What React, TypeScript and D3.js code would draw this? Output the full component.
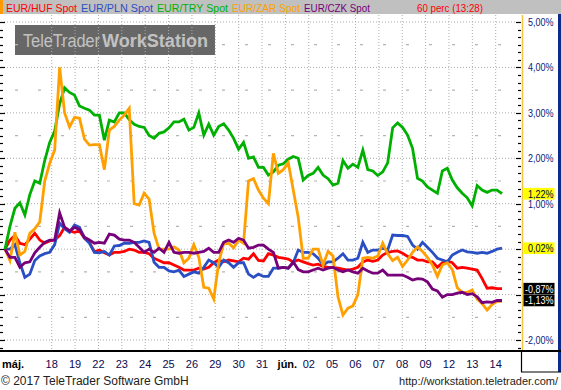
import React from "react";
import * as d3 from "d3";

// ---- data (percent change since start, hourly bars sampled) ----
const seriesNames = ["EUR/HUF Spot", "EUR/PLN Spot", "EUR/TRY Spot", "EUR/ZAR Spot", "EUR/CZK Spot"];
const seriesColors = ["#ff0000", "#2a4fc4", "#00b000", "#ffa000", "#76007a"];

const hufValues = [
  0.0, 0.2, 0.3, 0.13, 0.1, 0.22, 0.35, 0.2, 0.13, 0.18,
  0.2, 0.3, 0.48, 0.4, 0.37, 0.4, 0.24, 0.15, -0.06, -0.02,
  -0.08, -0.13, -0.07, -0.07, -0.05, 0.0, -0.02, -0.07, -0.07, -0.1,
  -0.2, -0.25, -0.3, -0.3, -0.35, -0.4, -0.46, -0.46, -0.46, -0.42,
  -0.44, -0.4, -0.3, -0.24, -0.28, -0.24, -0.26, -0.28, -0.2, -0.22,
  -0.1, -0.25, -0.26, -0.1, -0.13, -0.18, -0.2, -0.22, -0.28, -0.24,
  -0.28, -0.32, -0.35, -0.33, -0.38, -0.4, -0.4, -0.42, -0.44, -0.46,
  -0.44, -0.4, -0.28, -0.24, -0.27, -0.24, -0.13, -0.07, -0.05, -0.04,
  -0.09, -0.16, -0.18, -0.24, -0.24, -0.28, -0.28, -0.4, -0.3, -0.26,
  -0.3, -0.42, -0.4, -0.42, -0.44, -0.46, -0.65, -0.86, -0.85, -0.87,
  -0.87,
];

const plnValues = [
  0.0, 0.0, 0.1, -0.3, -0.62, -0.55, -0.25, -0.15, -0.1, -0.07,
  0.1, 0.57, 0.45, 0.37, 0.53, 0.48, 0.24, 0.13, -0.07, -0.08,
  -0.05, -0.13, 0.07, 0.08, 0.13, 0.13, 0.15, 0.15, 0.18, 0.15,
  -0.29, -0.4, -0.4, -0.48, -0.5, -0.46, -0.6, -0.55, -0.5, -0.53,
  -0.4, -0.24, -0.3, -0.4, -0.24, -0.3, -0.4, -0.3, -0.3, -0.55,
  -0.62, -0.55, -0.6, -0.6, -0.42, -0.42, -0.4, -0.42, -0.3, -0.02,
  -0.07, -0.07, -0.1, -0.2, -0.35, -0.28, -0.28, -0.2, -0.1, -0.24,
  -0.24, -0.2, 0.15, -0.07, -0.02, -0.02, 0.02, -0.02, 0.31, 0.3,
  0.3, 0.28, 0.09, 0.0, 0.15, 0.04, -0.07, -0.2, -0.24, -0.28,
  -0.13, -0.07, -0.02, -0.06, -0.07, -0.09, -0.07, -0.09, -0.05, 0.0,
  0.02,
];

const tryValues = [
  0.0, 0.5, 0.9, 1.02, 0.75, 1.2, 1.5, 1.45, 1.95, 2.35,
  2.6, 3.2, 3.55, 3.45, 3.39, 3.15, 3.1, 3.06, 2.95, 2.95,
  2.4, 2.84, 2.8, 3.0, 3.0, 2.85, 2.75, 2.7, 2.68, 2.5,
  2.44, 2.55, 2.58, 2.67, 2.8, 2.8, 2.86, 2.62, 2.68, 3.0,
  2.51, 2.75, 2.51, 2.7, 2.76, 2.62, 2.44, 2.2, 2.35, 2.0,
  2.03, 1.8, 1.8, 1.63, 1.7, 1.85, 1.88, 1.98, 2.04, 2.0,
  1.52, 1.62, 1.67, 1.8, 1.63, 1.55, 1.41, 1.45, 1.95, 1.78,
  1.87, 1.8, 2.18, 1.75, 1.72, 1.62, 1.7, 1.9, 2.67, 2.78,
  2.68, 2.51, 2.22, 1.56, 1.5, 1.37, 1.3, 1.23, 1.72, 1.78,
  1.52, 1.35, 1.23, 1.13, 0.95, 1.4, 1.3, 1.25, 1.3, 1.3,
  1.22,
];

const zarValues = [
  0.0, -0.25, 0.37, -0.13, -0.05, 0.35, 0.45, 0.6, 1.5, 1.89,
  2.18, 4.0, 3.0, 2.69, 2.9, 2.88, 2.42, 2.29, 2.3, 2.3,
  1.75, 2.62, 2.7, 2.84, 2.95, 3.1, 1.0, 0.97, 1.23, 1.1,
  0.35, 0.0, 0.0, 0.0, 0.05, -0.02, -0.3, -0.2, 0.1, -0.18,
  -0.84, -0.86, -1.1, -0.29, 0.12, 0.13, 0.03, 0.2, 0.13, 1.5,
  1.55, 1.3, 1.12, 1.0, 2.11, 1.67, 1.75, 1.9, 1.3, 0.7,
  -0.2, -0.2, 0.0, 0.0, -0.35, -0.05, -0.15, -1.05, -1.45, -1.3,
  -1.25, -1.0, -0.2, -0.18, -0.2, -0.15, 0.13, -0.1, -0.25, -0.18,
  -0.38, -0.24, -0.07, 0.05, -0.05, -0.18, -0.35, -0.6, -0.35, -0.3,
  -0.45, -0.85, -0.95, -0.95, -0.9, -1.1, -1.2, -1.34, -1.22, -1.15,
  -1.15,
];

const czkValues = [
  0.0, -0.18, -0.18, -0.4, -0.3, -0.28, -0.08, 0.04, 0.15, 0.2,
  0.2, 0.8, 0.48, 0.4, 0.48, 0.43, 0.26, 0.2, 0.13, 0.15,
  0.13, 0.33, 0.31, 0.22, 0.2, 0.2, 0.15, 0.04, -0.07, 0.0,
  -0.07, 0.02, -0.07, 0.15, -0.07, -0.09, -0.07, -0.07, -0.09, -0.07,
  -0.05, 0.02, -0.07, -0.07, 0.15, 0.2, 0.15, 0.24, 0.2, 0.02,
  0.04, 0.09, 0.09, 0.0, -0.07, -0.42, -0.4, -0.42, -0.28, -0.45,
  -0.5, -0.5, -0.46, -0.42, -0.46, -0.42, -0.4, -0.46, -0.5, -0.46,
  -0.5, -0.53, -0.42, -0.48, -0.53, -0.53, -0.46, -0.57, -0.57, -0.57,
  -0.57, -0.62, -0.68, -0.65, -0.66, -0.72, -0.88, -0.92, -1.06, -1.0,
  -1.0, -0.97, -0.95, -1.0, -0.98, -1.05, -1.18, -1.16, -1.17, -1.13,
  -1.13,
];

// trading-day axis: tick i = trading day i
const dayLabels = ["18", "19", "22", "23", "24", "25", "26", "29", "30", "31", "jún.", "02", "05", "06", "07", "08", "09", "12", "13", "14"];
const monthLabels = ["máj.", "jún."];
const startDay = -1; // first sample (trading-day units)
const endDay = 20.27; // last sample (14 jún. 13:28)
const yTickValues = [5, 4, 3, 2, 1, 0, -1, -2];
const yHalfValues = [4.5, 3.5, 2.5, 1.5, 0.5, -0.5, -1.5];
const headerRight = "60 perc (13:28)";

const fmtPct = (v: number) => d3.format(".2f")(v).replace(".", ",").replace("\u2212", "-") + "%";

export default function App() {
  const W = 561;
  const H = 390;
  const plot = { left: 0, right: 522, top: 15, bottom: 351 };

  const y = d3.scaleLinear().domain([-2, 5]).range([340, 22]);
  const x = d3.scaleLinear().domain([1, 20]).range([51.7, 495.7]);

  const allSeries = [hufValues, plnValues, tryValues, zarValues, czkValues];
  const dayAt = (i: number, n: number) => startDay + (i * (endDay - startDay)) / (n - 1);

  const line = (vals: number[]) =>
    d3
      .line<number>()
      .x((_, i) => x(dayAt(i, vals.length)))
      .y((d) => y(d))
      .curve(d3.curveLinear)(vals) || "";

  const minorTicks = d3.range(-13, 31).map((k) => k / 6);

  // current-value boxes (drawn top-most first, skip overlaps)
  const boxH = 11.6;
  const order = [4, 3, 2, 1, 0];
  const placed: { v: number; cy: number }[] = [];
  order.forEach((si) => {
    const vals = allSeries[si];
    const v = vals[vals.length - 1];
    const cy = y(v);
    if (placed.every((p) => Math.abs(p.cy - cy) >= boxH)) placed.push({ v, cy });
  });

  // axis labels fully hidden behind a value box are not drawn
  const axisLabels = yTickValues.filter((v) => placed.every((p) => Math.abs(p.cy - y(v)) > boxH * 0.6));

  const labelLen = (s: string) => (s.length >= 6 ? 28.5 : 25.5);

  // header legend layout
  const legendWidths = [71, 72, 71, 68, 66];
  const legendX: number[] = [];
  let acc = 6;
  legendWidths.forEach((w) => {
    legendX.push(acc);
    acc += w + 4;
  });

  const grid = "#ababab";

  return (
    <svg
      width={W}
      height={H}
      viewBox={`0 0 ${W} ${H}`}
      style={{ position: "absolute", left: 0, top: 0, background: "#fff" }}
      fontFamily="'Liberation Sans', Arial, sans-serif"
    >
      <defs>
        <clipPath id="plotClip">
          <rect x={plot.left + 1} y={plot.top} width={plot.right - plot.left - 1} height={plot.bottom - plot.top} />
        </clipPath>
      </defs>
      <rect x={0} y={0} width={W} height={H} fill="#ffffff" />

      {/* header */}
      <rect x={0} y={0} width={W} height={14} fill="#c0c0c0" />
      <rect x={0} y={0} width={3} height={14} fill="#ff9a00" />
      {seriesNames.map((n, i) => (
        <text key={n} x={legendX[i]} y={11.5} fontSize={11.2} fill={seriesColors[i]} textLength={legendWidths[i]} lengthAdjust="spacingAndGlyphs">
          {n}
        </text>
      ))}
      <text x={417} y={11.5} fontSize={11.2} fill="#ff0000" textLength={66} lengthAdjust="spacingAndGlyphs">
        {headerRight}
      </text>

      {/* watermark */}
      <rect x={15} y={25} width={200} height={30} fill="#676767" />
      <text x={23} y={46.5} fontSize={18} fill="#c2c2c2" textLength={77} lengthAdjust="spacingAndGlyphs">
        TeleTrader
      </text>
      <text x={102} y={46.5} fontSize={18} fontWeight="bold" fill="#c2c2c2" textLength={106} lengthAdjust="spacingAndGlyphs">
        WorkStation
      </text>

      {/* vertical grid */}
      {dayLabels.map((_, i) => (
        <line key={"vg" + i} x1={x(i + 1)} x2={x(i + 1)} y1={plot.top} y2={plot.bottom} stroke={grid} strokeDasharray="1,2" />
      ))}
      {/* horizontal grid */}
      {yTickValues.map((v) => (
        <line key={"hg" + v} x1={4} x2={516} y1={y(v)} y2={y(v)} stroke={grid} strokeDasharray="1,2" />
      ))}
      {yHalfValues.map((v) => (
        <line key={"hh" + v} x1={15} x2={516} y1={y(v)} y2={y(v)} stroke="#b4b4b4" strokeWidth={1.2} strokeDasharray="3,20" />
      ))}

      {/* left & right ticks */}
      {minorTicks.map((v, k) => {
        const major = Math.abs(v - Math.round(v)) < 1e-6;
        const yy = Math.round(y(v)) + 0.5;
        return (
          <g key={"t" + k}>
            <line x1={0} x2={major ? 5 : 3} y1={yy} y2={yy} stroke="#000" strokeWidth={1.2} />
            <line x1={major ? 516 : 518} x2={521} y1={yy} y2={yy} stroke="#000" strokeWidth={1.2} />
          </g>
        );
      })}

      {/* series */}
      <g clipPath="url(#plotClip)">
        {allSeries.map((vals, i) => (
          <path key={seriesNames[i]} d={line(vals)} fill="none" stroke={seriesColors[i]} strokeWidth={2.8} strokeLinejoin="miter" />
        ))}
      </g>

      {/* right axis */}
      <line x1={522.5} x2={522.5} y1={plot.top} y2={plot.bottom} stroke="#f2c440" strokeWidth={1.5} />
      {axisLabels.map((v) => {
        const s = fmtPct(v);
        return (
          <text key={"yl" + v} x={553.5} y={y(v) + 3.8} fontSize={10.5} textAnchor="end" fill="#0c1a78" textLength={labelLen(s)} lengthAdjust="spacingAndGlyphs">
            {s}
          </text>
        );
      })}
      {placed.map((p) => {
        const s = fmtPct(p.v);
        return (
          <g key={"box" + p.v}>
            <rect x={523.5} y={p.cy - boxH / 2} width={31} height={boxH} fill={p.v >= 0 ? "#ffff00" : "#000000"} />
            <text
              x={553.5}
              y={p.cy + 3.9}
              fontSize={10.5}
              textAnchor="end"
              fill={p.v >= 0 ? "#000040" : "#ffffff"}
              textLength={labelLen(s)}
              lengthAdjust="spacingAndGlyphs"
            >
              {s}
            </text>
          </g>
        );
      })}
      <rect x={558} y={14} width={3} height={358} fill="#0b2a8c" />

      {/* x axis */}
      <line x1={0} x2={W} y1={351} y2={351} stroke="#000" strokeWidth={1.8} />
      <line x1={521.5} x2={521.5} y1={351} y2={372} stroke="#000" strokeWidth={1.2} />
      <line x1={521} x2={W} y1={372} y2={372} stroke="#000" strokeWidth={1.2} />
      <text x={2} y={367.5} fontSize={11} fontWeight="bold" fill="#000">
        {monthLabels[0]}
      </text>
      {dayLabels.map((d, i) => {
        const isMonth = monthLabels.includes(d);
        return (
          <text
            key={"xl" + i}
            x={x(i + 1) + (isMonth ? 2 : 0)}
            y={367.5}
            fontSize={11}
            textAnchor="middle"
            fontWeight={isMonth ? "bold" : "normal"}
            fill={isMonth ? "#000" : "#0a0a50"}
          >
            {d}
          </text>
        );
      })}

      {/* footer */}
      <text x={1} y={385} fontSize={12} fill="#222">
        © 2017 TeleTrader Software GmbH
      </text>
      <text x={558} y={385} fontSize={11} fill="#222" textAnchor="end">
        http://workstation.teletrader.com/
      </text>
    </svg>
  );
}
